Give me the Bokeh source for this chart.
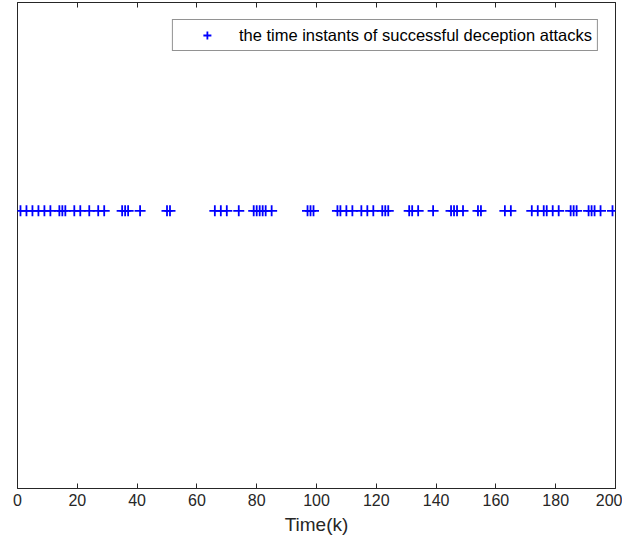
from bokeh.plotting import figure
from bokeh.models import Range1d, FixedTicker, LinearAxis, Legend, LegendItem, ColumnDataSource
from bokeh.embed import file_html
from bokeh.resources import INLINE

attack_times = [1, 3, 5, 7, 9, 11, 14, 15, 16, 19, 21, 24, 27, 29,
                35, 36, 37, 41, 50, 51,
                66, 68, 70, 74, 79, 80, 81, 82, 83, 85,
                97, 98, 99,
                107, 108, 110, 112, 115, 117, 119, 122, 123, 124,
                131, 132, 134, 139, 145, 146, 147, 149,
                154, 155, 163, 165,
                172, 174, 176, 177, 179, 181,
                185, 186, 187, 191, 192, 193, 195, 199]
attack_level = [1] * len(attack_times)
x_ticks = [0, 20, 40, 60, 80, 100, 120, 140, 160, 180, 200]
legend_label = "the time instants of successful deception attacks"

src = ColumnDataSource(dict(x=attack_times, y=attack_level))

p = figure(width=622, height=537, output_backend="svg", toolbar_location=None,
           x_range=Range1d(0, 200), y_range=Range1d(0, 1.75),
           min_border_left=17, min_border_right=7, min_border_top=2,
           min_border_bottom=47)
p.background_fill_color = "white"
p.border_fill_color = "white"
p.grid.visible = False
p.outline_line_color = "#262626"
p.outline_line_width = 1

r = p.scatter("x", "y", source=src, marker="cross", size=11, line_color="#0000ff",
              line_width=1.8)

p.yaxis.visible = False
ax = p.xaxis[0]
ax.ticker = FixedTicker(ticks=x_ticks)
ax.major_tick_in = 5
ax.major_tick_out = 0
ax.minor_tick_line_color = None
ax.axis_line_color = "#262626"
ax.major_tick_line_color = "#262626"
ax.major_label_text_font = "Liberation Sans"
ax.major_label_text_font_size = "16px"
ax.major_label_text_color = "#262626"
ax.major_label_standoff = 5
ax.axis_label = "Time(k)"
ax.axis_label_text_font = "Liberation Sans"
ax.axis_label_text_font_size = "19px"
ax.axis_label_text_font_style = "normal"
ax.axis_label_text_color = "#262626"
ax.axis_label_standoff = 5

top = LinearAxis(ticker=FixedTicker(ticks=x_ticks), major_tick_in=5, major_tick_out=0,
                 minor_tick_line_color=None, major_label_text_font_size="0px",
                 axis_line_color="#262626", major_tick_line_color="#262626")
p.add_layout(top, "above")
top.major_label_text_color = None
top.major_label_standoff = 0

leg = Legend(items=[LegendItem(label=legend_label, renderers=[r])],
             location="top_right")
leg.label_text_font = "Liberation Sans"
leg.label_text_font_size = "16.5px"
leg.label_text_color = "#000000"
leg.border_line_color = "#262626"
leg.border_line_width = 1
leg.margin = 17
leg.padding = 5
leg.glyph_width = 58
leg.label_standoff = 3
leg.spacing = 0
p.add_layout(leg)

open("out.html", "w").write(file_html(p, INLINE))
